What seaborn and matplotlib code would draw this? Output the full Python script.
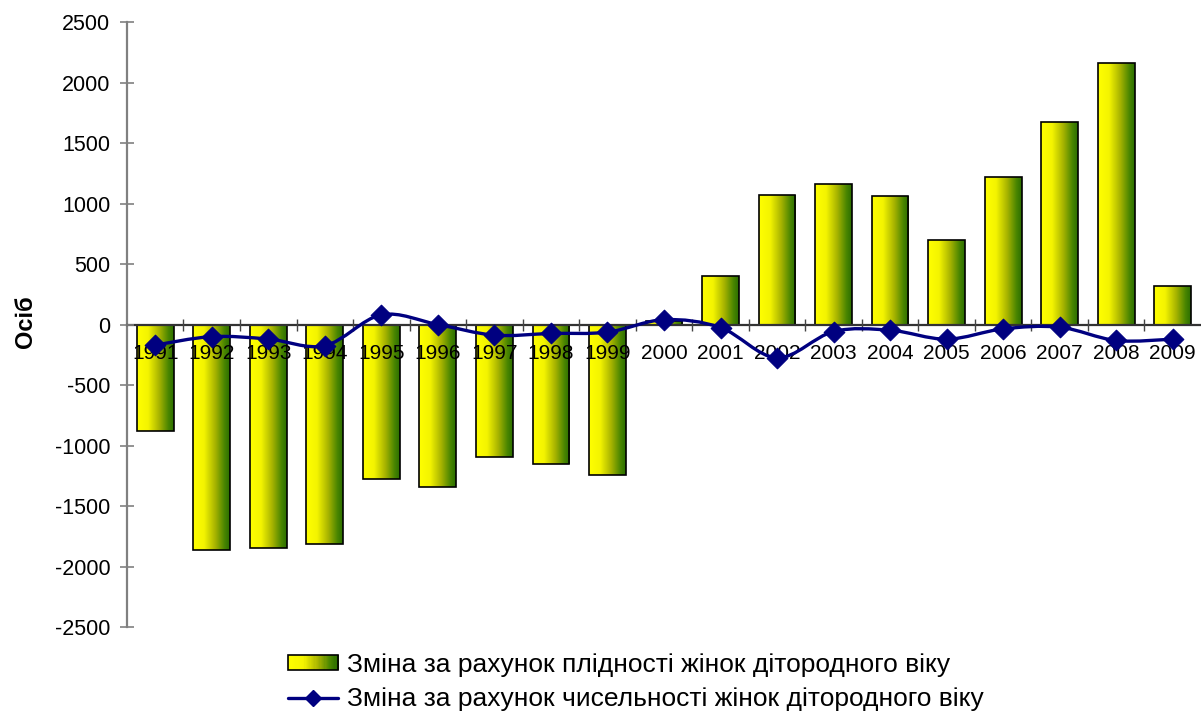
import numpy as np
import pandas as pd
import matplotlib
matplotlib.use("Agg")
import matplotlib.pyplot as plt
import seaborn as sns
from matplotlib.colors import LinearSegmentedColormap
from matplotlib.legend_handler import HandlerBase
from matplotlib.lines import Line2D
from matplotlib.patches import Rectangle, PathPatch
from matplotlib.path import Path
from matplotlib.ticker import FixedLocator, NullFormatter

# --- data -------------------------------------------------------------
years = [str(y) for y in range(1991, 2010)]
fertility_change = [-880, -1860, -1850, -1815, -1275, -1340, -1095, -1150, -1240,
                    30, 400, 1070, 1160, 1060, 695, 1220, 1670, 2160, 320]
population_change = [-170, -100, -120, -175, 80, 0, -88, -74, -63,
                     40, -25, -275, -58, -47, -121, -36, -22, -132, -121]
bar_label = "Зміна за рахунок плідності жінок дітородного віку"
line_label = "Зміна за рахунок чисельності жінок дітородного віку"
y_label = "Осіб"
y_ticks = [-2500, -2000, -1500, -1000, -500, 0, 500, 1000, 1500, 2000, 2500]

df = pd.DataFrame({"year": years, "fert": fertility_change, "pop": population_change})

sns.set_theme(style="white")
plt.rcParams["font.family"] = ["Liberation Sans", "DejaVu Sans"]
plt.rcParams["text.color"] = "black"
plt.rcParams["axes.labelcolor"] = "black"
plt.rcParams["xtick.color"] = "black"
plt.rcParams["ytick.color"] = "black"

grad = LinearSegmentedColormap.from_list(
    "yg", [(0.0, "#FFFF00"), (0.3, "#F4F400"), (0.6, "#A8B400"),
           (0.85, "#4A8600"), (1.0, "#2A6E00")])

fig = plt.figure(figsize=(12.01, 7.13), dpi=100)
ax = fig.add_axes([0.1057, 0.1206, 0.8943, 0.8485])

sns.barplot(data=df, x="year", y="fert", order=years, ax=ax, width=0.65,
            color="#FFFF00", edgecolor="black", linewidth=1.2, saturation=1)

# horizontal yellow-to-green fill inside every bar
gimg = np.linspace(0, 1, 256).reshape(1, -1)
for p in list(ax.patches):
    x0, y0 = p.get_x(), p.get_y()
    w, h = p.get_width(), p.get_height()
    im = ax.imshow(gimg, cmap=grad, aspect="auto", zorder=1.1,
                   extent=(x0, x0 + w, min(y0, y0 + h), max(y0, y0 + h)))
    im.set_clip_path(p)
    p.set_facecolor("none")
    p.set_zorder(1.2)

# smoothed line through the points (Catmull-Rom as cubic Bezier segments)
xs = np.arange(len(years), dtype=float)
ys = np.array(population_change, dtype=float)
pts = np.column_stack([xs, ys])
verts = [pts[0]]
codes = [Path.MOVETO]
n = len(pts)
for i in range(n - 1):
    p0 = pts[i - 1] if i > 0 else pts[i]
    p1, p2 = pts[i], pts[i + 1]
    p3 = pts[i + 2] if i + 2 < n else pts[i + 1]
    c1 = p1 + (p2 - p0) / 6.0
    c2 = p2 - (p3 - p1) / 6.0
    verts += [c1, c2, p2]
    codes += [Path.CURVE4] * 3
ax.add_patch(PathPatch(Path(verts, codes), facecolor="none", edgecolor="#000080",
                       linewidth=2.4, zorder=3))
sns.scatterplot(x=xs, y=ys, ax=ax, marker="D", s=110, color="#000080",
                edgecolor="#000080", zorder=4, legend=False)

ax.set_xlim(-0.5, len(years) - 0.5)
ax.set_ylim(-2500, 2500)
ax.set_axisbelow(False)

# axes styling
for s in ("top", "right"):
    ax.spines[s].set_visible(False)
ax.spines["left"].set_color("#808080")
ax.spines["left"].set_linewidth(1.6)
ax.spines["bottom"].set_position(("data", 0))
ax.spines["bottom"].set_color("#333333")
ax.spines["bottom"].set_linewidth(1.6)

ax.set_yticks(y_ticks)
ax.set_yticklabels([str(v) for v in y_ticks])
ax.tick_params(axis="y", direction="inout", length=10, width=1.2, color="#808080",
               labelsize=15.5, pad=7, left=True, labelcolor="black")

ax.xaxis.set_major_locator(FixedLocator(np.arange(0.5, len(years) - 1, 1.0)))
ax.xaxis.set_major_formatter(NullFormatter())
ax.xaxis.set_minor_locator(FixedLocator(xs))
ax.set_xticklabels(years, minor=True)
ax.tick_params(axis="x", which="major", direction="inout", length=9, width=1.0,
               color="#444444", bottom=True)
ax.tick_params(axis="x", which="minor", length=0, labelsize=15, pad=14, bottom=True,
               labelcolor="black")
ax.set_xlabel("")
ax.set_ylabel(y_label, fontsize=17, fontweight="bold", color="black")
ax.yaxis.set_label_coords(-0.0835, 0.505)


class GradientHandler(HandlerBase):
    def create_artists(self, legend, orig_handle, xdescent, ydescent,
                       width, height, fontsize, trans):
        arts = []
        k = 40
        for i in range(k):
            r = Rectangle((-xdescent + width * i / k, -ydescent), width / k + 0.3,
                          height, facecolor=grad(i / (k - 1)), edgecolor="none",
                          transform=trans)
            arts.append(r)
        arts.append(Rectangle((-xdescent, -ydescent), width, height, facecolor="none",
                              edgecolor="black", linewidth=1.2, transform=trans))
        return arts


bar_handle = Rectangle((0, 0), 1, 1)
line_handle = Line2D([], [], color="#000080", linewidth=2.4, marker="D",
                     markersize=8, markerfacecolor="#000080")
fig.legend([bar_handle, line_handle], [bar_label, line_label],
           handler_map={Rectangle: GradientHandler()},
           loc="upper left", bbox_to_anchor=(0.220, 0.118), frameon=False,
           fontsize=19, handlelength=1.9, handleheight=0.5, handletextpad=0.34,
           labelspacing=0.4)

fig.savefig("out.png", dpi=100, facecolor="white")
